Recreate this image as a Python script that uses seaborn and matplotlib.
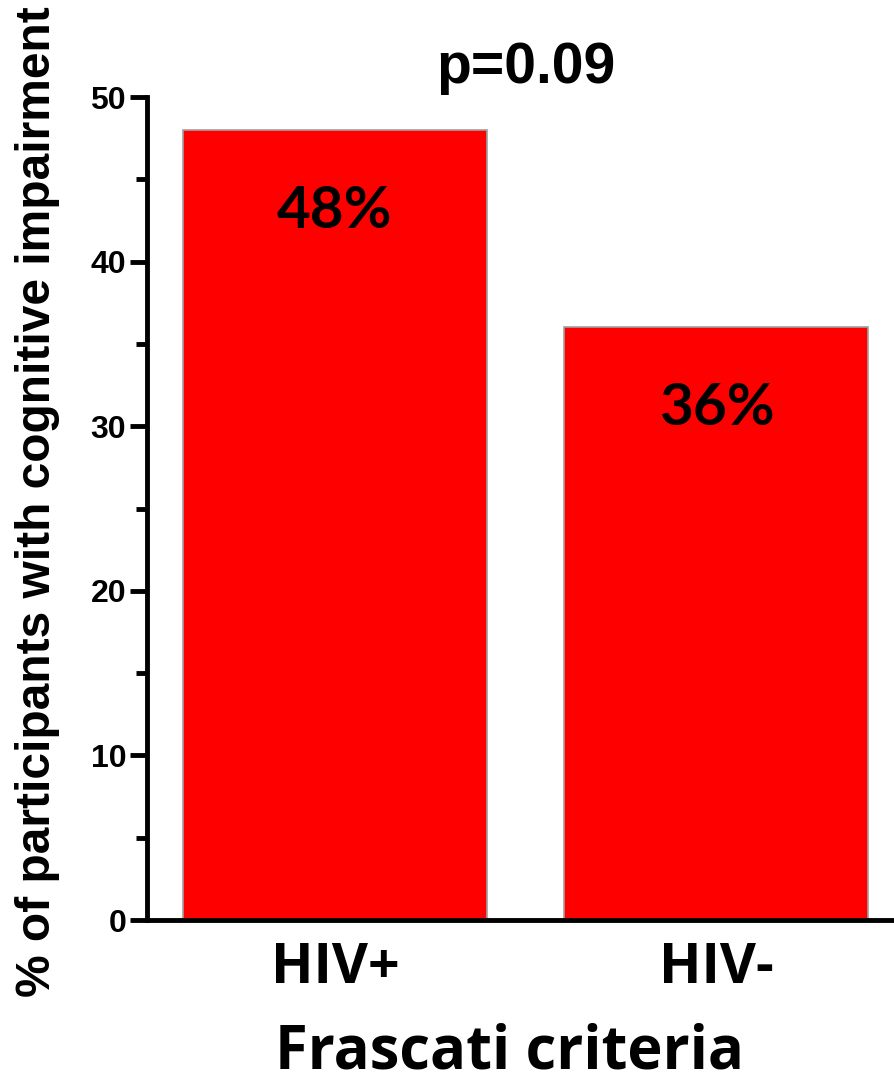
import matplotlib
matplotlib.use("Agg")
import matplotlib.pyplot as plt
from matplotlib.ticker import MultipleLocator
import seaborn as sns
import pandas as pd

# Data
groups = ["HIV+", "HIV-"]
impaired_pct = [48, 36]
value_labels = ["48%", "36%"]
p_text = "p=0.09"

sns.set_style("ticks")
plt.rcParams["font.family"] = ["Liberation Sans", "DejaVu Sans"]
plt.rcParams["text.color"] = "black"
plt.rcParams["axes.labelcolor"] = "black"
plt.rcParams["xtick.color"] = "black"
plt.rcParams["ytick.color"] = "black"
plt.rcParams["axes.edgecolor"] = "black"

df = pd.DataFrame({"group": groups, "pct": impaired_pct})

fig = plt.figure(figsize=(8.95, 10.82), dpi=100)
ax = fig.add_axes([0.1642, 0.1497, 0.8358, 0.7606])

sns.barplot(data=df, x="group", y="pct", color="#ff0000", saturation=1,
            width=0.797, edgecolor="#a0a0a0", linewidth=1.2, ax=ax)

ax.set_ylim(0, 50)
ax.set_xlim(-0.493, 1.468)
ax.yaxis.set_major_locator(MultipleLocator(10))
ax.yaxis.set_minor_locator(MultipleLocator(5))

for s in ["top", "right"]:
    ax.spines[s].set_visible(False)
for s in ["left", "bottom"]:
    ax.spines[s].set_linewidth(3.5)
    ax.spines[s].set_color("black")

ax.tick_params(axis="y", which="major", length=12, width=3.5, labelsize=23, pad=3)
ax.tick_params(axis="y", which="minor", length=8, width=3.5)
ax.tick_params(axis="x", length=0, pad=15)
for t in ax.get_yticklabels():
    t.set_fontweight("bold")
for t in ax.get_xticklabels():
    t.set_fontfamily("Open Sans")
    t.set_fontweight("bold")
    t.set_fontsize(40)

# Value labels inside bars
for i, (v, lab) in enumerate(zip(impaired_pct, value_labels)):
    ax.text(i, v - 5.95, lab, ha="center", va="baseline", fontsize=42,
            fontweight="bold", family="Lato", color="black")

ax.text(0.5, 50.85, p_text, ha="center", va="baseline", fontsize=41,
        fontweight="bold", family="Liberation Sans", color="black",
        clip_on=False)

ax.set_xlabel("Frascati criteria", fontsize=43, fontweight="bold",
              family="Open Sans", va="baseline")
ax.xaxis.set_label_coords(0.485, -0.180)
ax.set_ylabel("% of participants with cognitive impairment", fontsize=34.5,
              fontweight="bold", family="Liberation Sans", va="center")
ax.yaxis.set_label_coords(-0.1457, 0.508)

fig.savefig("out.png", dpi=100)
